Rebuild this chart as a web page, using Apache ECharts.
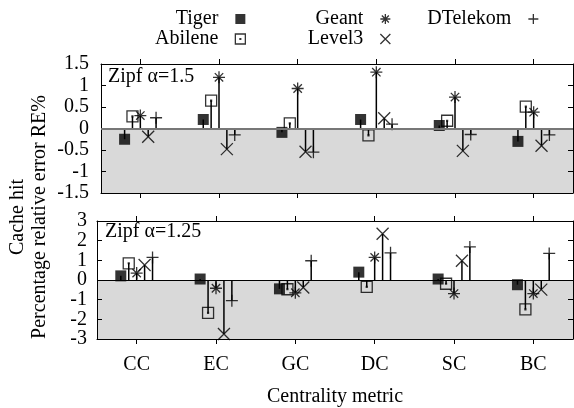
<!DOCTYPE html>
<html>
<head>
<meta charset="utf-8">
<script src="https://cdn.jsdelivr.net/npm/echarts@6/dist/echarts.min.js"></script>
<style>
html, body { margin: 0; padding: 0; background: #fff; }
#main { width: 574px; height: 408px; }
</style>
</head>
<body>
<div id="main"></div>
<script>
const categories = ['CC', 'EC', 'GC', 'DC', 'SC', 'BC'];
const networks = ['Tiger', 'Abilene', 'Geant', 'Level3', 'DTelekom'];

// Zipf alpha = 1.5 (upper panel)
const tiger15    = [-0.25, 0.21, -0.09, 0.21, 0.07, -0.30];
const abilene15  = [0.28, 0.65, 0.12, -0.16, 0.18, 0.51];
const geant15    = [0.30, 1.19, 0.93, 1.31, 0.73, 0.38];
const level315   = [-0.19, -0.48, -0.54, 0.24, -0.52, -0.40];
const dtelekom15 = [0.25, -0.15, -0.55, 0.10, -0.14, -0.15];

// Zipf alpha = 1.25 (lower panel)
const tiger125    = [0.21, 0.05, -0.45, 0.40, 0.05, -0.24];
const abilene125  = [0.85, -1.67, -0.47, -0.35, -0.19, -1.49];
const geant125    = [0.35, -0.42, -0.65, 1.15, -0.69, -0.69];
const level3125   = [0.76, -2.75, -0.38, 2.35, 0.98, -0.49];
const dtelekom125 = [1.15, -1.05, 0.98, 1.38, 1.68, 1.35];

// y tick labels
const yTicks15  = [-1.5, -1, -0.5, 0, 0.5, 1, 1.5];
const yTicks125 = [-3, -2, -1, 0, 1, 2, 3];

const FONT = 'Liberation Serif';
const FS = 20;
const offsets = [-0.2, -0.1, 0, 0.1, 0.2];
const symbols = [
  'path://M0 0H10V10H0Z',
  'path://M0 0H10V10H0Z M4.6 4.6H5.4V5.4H4.6Z',
  'path://M0 5H10M5 0V10M1.5 1.5L8.5 8.5M8.5 1.5L1.5 8.5',
  'path://M0 0L10 10M10 0L0 10',
  'path://M0 5H10M5 0V10'
];
const symbolSizes = [11, 11, 12, 12, 12];

const chart = echarts.init(document.getElementById('main'));

const tickPos = categories.map((c, i) => i);

function xAxes(grid, labels) {
  const base = {
    gridIndex: grid,
    type: 'value',
    min: -0.5,
    max: 5.5,
    z: 4,
    splitLine: { show: false },
    axisLine: { show: true, onZero: false, lineStyle: { color: '#000', width: 1 } },
    axisTick: { show: true, inside: false, length: 5, customValues: tickPos, lineStyle: { color: '#000' } }
  };
  return [
    Object.assign({}, base, {
      position: 'bottom',
      axisLabel: {
        show: labels,
        customValues: tickPos,
        formatter: v => categories[Math.round(v)],
        fontFamily: FONT, fontSize: FS, color: '#000', margin: 16
      },
      name: labels ? 'Centrality metric' : '',
      nameLocation: 'middle',
      nameGap: 48,
      nameTextStyle: { fontFamily: FONT, fontSize: FS, color: '#000' }
    }),
    Object.assign({}, base, { position: 'top', axisLabel: { show: false } })
  ];
}

// labels are split over two overlaid left axes (every other tick) so that
// the tightly spaced 20px labels are not dropped by the overlap check
function yAxes(grid, ticks, margin) {
  const min = ticks[0];
  const max = ticks[ticks.length - 1];
  const base = {
    gridIndex: grid,
    type: 'value',
    min: min,
    max: max,
    interval: ticks[1] - ticks[0],
    z: 4,
    splitLine: { show: false },
    axisLine: { show: true, onZero: false, lineStyle: { color: '#000', width: 1 } },
    axisTick: { show: true, inside: true, length: 5, customValues: ticks, lineStyle: { color: '#000' } }
  };
  const lbl = vals => ({
    customValues: vals,
    fontFamily: FONT, fontSize: FS, color: '#000', margin: margin,
    showMinLabel: true, showMaxLabel: true
  });
  return [
    Object.assign({}, base, {
      position: 'left', offset: 0,
      axisLabel: lbl(ticks.filter((t, i) => i % 2 === 0))
    }),
    Object.assign({}, base, { position: 'right', axisLabel: { show: false } }),
    Object.assign({}, base, {
      position: 'left', offset: 0,
      axisLine: { show: false, onZero: false },
      axisTick: { show: false },
      axisLabel: lbl(ticks.filter((t, i) => i % 2 === 1))
    })
  ];
}

function panelSeries(grid, yIndex, rows, yMin, zeroColor, zeroWidth) {
  const out = [];
  rows.forEach((vals, k) => {
    out.push({
      type: 'bar',
      name: networks[k] + ' impulse',
      xAxisIndex: grid * 2,
      yAxisIndex: yIndex,
      data: vals.map((v, i) => [i + offsets[k], v]),
      barWidth: 1.5,
      barGap: '-100%',
      itemStyle: { color: '#000' },
      silent: true
    });
  });
  rows.forEach((vals, k) => {
    const filled = k === 0;
    const s = {
      type: 'scatter',
      name: networks[k],
      xAxisIndex: grid * 2,
      yAxisIndex: yIndex,
      data: vals.map((v, i) => [i + offsets[k], v]),
      symbol: symbols[k],
      symbolSize: symbolSizes[k],
      z: 3,
      itemStyle: filled
        ? { color: '#000', borderWidth: 0 }
        : { color: 'transparent', borderColor: '#000', borderWidth: 1.3 },
      silent: true
    };
    if (k === 0) {
      s.markArea = {
        silent: true,
        itemStyle: { color: '#d9d9d9' },
        data: [[{ yAxis: 0 }, { yAxis: yMin }]]
      };
      s.markLine = {
        silent: true,
        symbol: 'none',
        label: { show: false },
        lineStyle: { color: zeroColor, width: zeroWidth, type: 'solid' },
        data: [{ yAxis: 0 }]
      };
    }
    out.push(s);
  });
  return out;
}

const legendBase = {
  orient: 'vertical',
  align: 'right',
  top: 9,
  padding: 0,
  itemWidth: 34,
  itemHeight: 10,
  itemGap: 0,
  selectedMode: false,
  itemStyle: { borderWidth: 1.3 },
  textStyle: { fontFamily: FONT, fontSize: FS, color: '#000', lineHeight: 20 }
};

const option = {
  animation: false,
  backgroundColor: '#fff',
  legend: [
    Object.assign({}, legendBase, { data: ['Tiger', 'Abilene'], right: 328 }),
    Object.assign({}, legendBase, { data: ['Geant', 'Level3'], right: 183 }),
    Object.assign({}, legendBase, { data: ['DTelekom'], right: 35 })
  ],
  grid: [
    { left: 101, top: 64, width: 472, height: 129 },
    { left: 97, top: 221, width: 476, height: 121 }
  ],
  xAxis: xAxes(0, false).concat(xAxes(1, true)),
  yAxis: yAxes(0, yTicks15, 12).concat(yAxes(1, yTicks125, 10)),
  graphic: [
    {
      type: 'text', x: 108, y: 77,
      style: { text: 'Zipf α=1.5', fontFamily: FONT, fontSize: FS, fill: '#000', verticalAlign: 'middle' }
    },
    {
      type: 'text', x: 105, y: 232,
      style: { text: 'Zipf α=1.25', fontFamily: FONT, fontSize: FS, fill: '#000', verticalAlign: 'middle' }
    },
    {
      type: 'text', x: 29, y: 217, rotation: Math.PI / 2,
      style: {
        text: 'Cache hit\nPercentage relative error RE%',
        fontFamily: FONT, fontSize: FS, fill: '#000',
        align: 'center', verticalAlign: 'middle', lineHeight: 22
      }
    }
  ],
  series: panelSeries(0, 0, [tiger15, abilene15, geant15, level315, dtelekom15], -1.5, '#777', 2)
    .concat(panelSeries(1, 3, [tiger125, abilene125, geant125, level3125, dtelekom125], -3, '#000', 1))
};

chart.setOption(option);
</script>
</body>
</html>
